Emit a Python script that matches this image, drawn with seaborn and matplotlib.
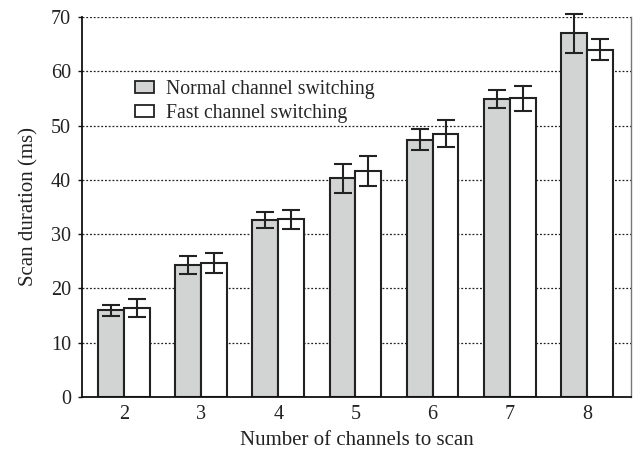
import matplotlib
matplotlib.use("Agg")
import matplotlib.pyplot as plt
import seaborn as sns
import pandas as pd
from matplotlib.patches import Patch

# Scan duration per number of channels, for two switching methods
channels = ["2", "3", "4", "5", "6", "7", "8"]
normal_mean = [16.0, 24.3, 32.6, 40.3, 47.4, 54.9, 67.0]
normal_err = [1.0, 1.7, 1.4, 2.7, 1.9, 1.6, 3.6]
fast_mean = [16.4, 24.7, 32.7, 41.6, 48.5, 55.0, 64.0]
fast_err = [1.6, 1.9, 1.8, 2.7, 2.5, 2.3, 2.0]
series = ["Normal channel switching", "Fast channel switching"]
colors = ["#d2d3d3", "#ffffff"]

df = pd.DataFrame({
    "channels": channels * 2,
    "duration": normal_mean + fast_mean,
    "err": normal_err + fast_err,
    "method": [series[0]] * len(channels) + [series[1]] * len(channels),
})

sns.set_theme(style="white")
plt.rcParams["font.family"] = ["Liberation Serif", "DejaVu Serif"]

fig = plt.figure(figsize=(6.36, 4.54), dpi=100)
ax = fig.add_axes([0.129, 0.1256, 0.863, 0.837])

# dotted horizontal grid behind the bars
ax.set_axisbelow(True)
ax.yaxis.grid(True, linestyle=(0, (1.5, 1.5)), color="#222222", linewidth=0.9)
ax.xaxis.grid(False)

sns.barplot(data=df, x="channels", y="duration", hue="method",
            hue_order=series, palette=colors, width=0.67, gap=0,
            errorbar=None, edgecolor="#222222", linewidth=1.5,
            legend=False, ax=ax)

# error bars centred on each bar
for cont, (name, sub) in zip(ax.containers, df.groupby("method", sort=False)):
    xs = [p.get_x() + p.get_width() / 2 for p in cont.patches]
    eb = ax.errorbar(xs, sub["duration"].values, yerr=sub["err"].values,
                     fmt="none", ecolor="#222222", elinewidth=1.5,
                     capsize=6.5, capthick=1.5, zorder=5)
    for art in eb.lines[1] + eb.lines[2]:
        art.set_clip_on(False)

ax.set_xlim(-0.544, 6.57)
ax.set_ylim(0, 70)
ax.set_yticks(range(0, 71, 10))

for side in ["left", "bottom"]:
    ax.spines[side].set_color("#111111")
    ax.spines[side].set_linewidth(1.3)
ax.spines["right"].set_color("#777777")
ax.spines["right"].set_linewidth(1.0)
ax.spines["top"].set_visible(False)

ax.tick_params(axis="y", direction="out", length=3, width=1, color="#111111",
               labelsize=14.5, pad=5, left=True)
ax.tick_params(axis="x", length=0, labelsize=14.5, pad=6)
for lab in ax.get_xticklabels() + ax.get_yticklabels():
    lab.set_color("#222222")

ax.set_xlabel("Number of channels to scan", fontsize=15, color="#222222", labelpad=5)
ax.set_ylabel("Scan duration (ms)", fontsize=15, color="#222222", labelpad=9)

handles = [Patch(facecolor=c, edgecolor="#222222", linewidth=1.3, label=s)
           for c, s in zip(colors, series)]
ax.legend(handles=handles, loc="upper left", bbox_to_anchor=(0.082, 0.855),
          frameon=False, fontsize=14.2, handlelength=0.95, handleheight=0.5,
          handletextpad=0.65, labelspacing=0.25, borderaxespad=0)

fig.savefig("out.png", dpi=100)
